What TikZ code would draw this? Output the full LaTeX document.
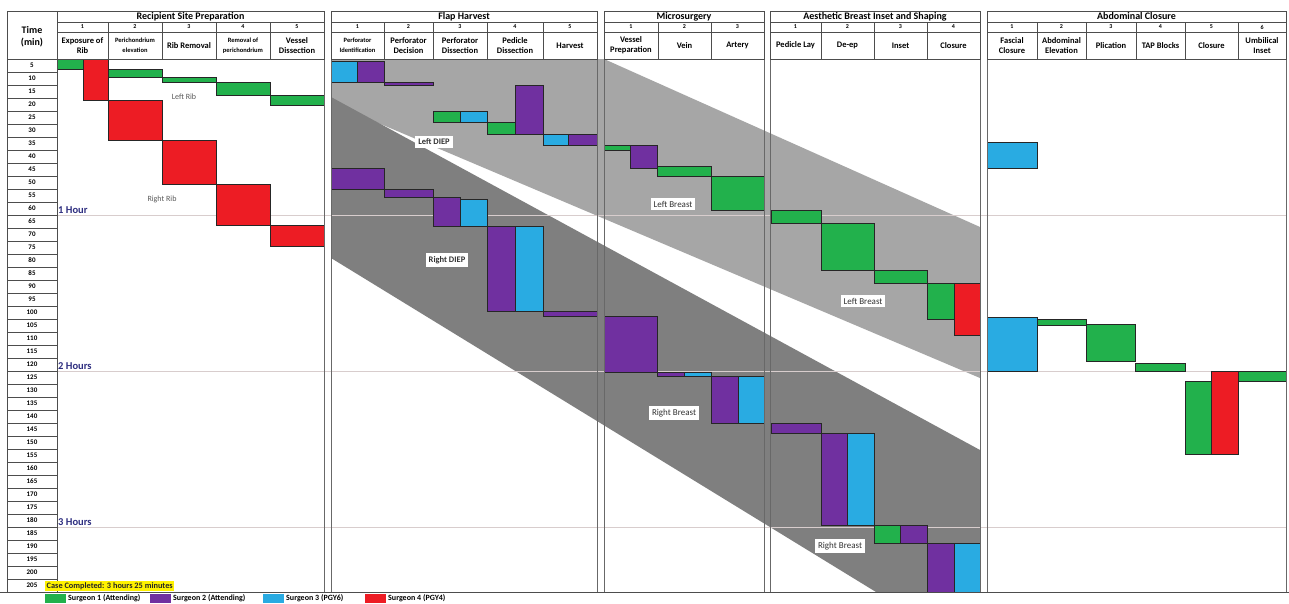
\documentclass[tikz,border=0pt]{standalone}
\usepackage{fontspec}
\setmainfont{Carlito}
\definecolor{sgreen}{HTML}{22B14C}
\definecolor{spurple}{HTML}{7030A0}
\definecolor{scyan}{HTML}{29ABE2}
\definecolor{sred}{HTML}{ED1C24}
\definecolor{bandlight}{HTML}{A6A6A6}
\definecolor{banddark}{HTML}{7F7F7F}
\definecolor{hourline}{HTML}{D8CDCD}
\definecolor{hourtext}{HTML}{2E2E80}
\definecolor{gridc}{HTML}{4D4D4D}
\definecolor{casebg}{HTML}{FFF200}
\tikzset{
    bar/.style={draw=black!85, line width=0.6pt},
    cell/.style={draw=gridc, line width=0.7pt},
    sect/.style={draw=gridc!85, line width=1pt},
    hourln/.style={draw=hourline, line width=0.9pt},
    sectitle/.style={font=\bfseries\fontsize{10}{11}\selectfont, inner sep=0pt},
    colnum/.style={font=\bfseries\fontsize{6}{7}\selectfont, inner sep=0pt},
    timenum/.style={font=\bfseries\fontsize{7}{8}\selectfont, inner sep=0pt},
    hourlab/.style={font=\bfseries\fontsize{10.5}{11}\selectfont, text=hourtext, inner sep=1pt},
    bandlab/.style={fill=white, font=\bfseries\fontsize{8.5}{9}\selectfont, text=black!80, inner sep=3pt},
    breastlab/.style={bandlab, font=\fontsize{9}{10}\selectfont},
    riblab/.style={font=\fontsize{8}{9}\selectfont, text=black!65, inner sep=0pt},
    legtext/.style={font=\bfseries\fontsize{8}{9}\selectfont, inner sep=0pt, anchor=west}
}
\begin{document}
\begin{tikzpicture}[x=1pt, y=-1pt]
        \useasboundingbox (0,0) rectangle (1289,603);
        \fill[white] (0,0) rectangle (1289,603);

        \fill[bandlight] (331,59) -- (604,59) -- (980,227) -- (980,378) -- (331,103) -- cycle;
        \fill[banddark] (331,97) -- (980,450) -- (980,592) -- (876,592) -- (331,258) -- cycle;

        \foreach \h/\y/\lab in {1/215/1 Hour, 2/371/2 Hours, 3/527/3 Hours} {
            \draw[hourln] (57,\y) -- (1286,\y);
            \node[hourlab, anchor=base west] (hour\h) at (57,{\y-1.5}) {\lab};
        }

        \foreach \xa/\ya/\xb/\yb/\c in {
            57/59/83/69/sgreen, 83/59/108/100/sred, 108/69/162/77/sgreen,
            162/77/216/82/sgreen, 216/82/270/95/sgreen, 270/95/324/105/sgreen,
            108/100/162/140/sred, 162/140/216/184/sred, 216/184/270/225/sred,
            270/225/324/246/sred,
            331/61/357/82/scyan, 357/61/384/82/spurple, 384/82/433/85/spurple,
            433/111/460/122/sgreen, 460/111/487/122/scyan, 487/122/515/134/sgreen,
            515/85/543/134/spurple, 543/134/568/145/scyan, 568/134/597/145/spurple,
            331/168/384/189/spurple, 384/189/433/197/spurple, 433/197/460/226/spurple,
            460/199/487/226/scyan, 487/226/515/311/spurple, 515/226/543/311/scyan,
            543/311/597/316/spurple,
            604/145/630/150/sgreen, 630/145/657/168/spurple, 657/166/711/176/sgreen,
            711/176/764/210/sgreen,
            604/316/657/372/spurple, 657/372/684/376/spurple, 684/372/711/376/scyan,
            711/376/738/423/spurple, 738/376/764/423/scyan,
            771/210/821/223/sgreen, 821/223/874/270/sgreen, 874/270/927/283/sgreen,
            927/283/954/319/sgreen, 954/283/980/335/sred,
            771/423/821/433/spurple, 821/433/847/525/spurple, 847/433/874/525/scyan,
            874/525/900/543/sgreen, 900/525/927/543/spurple, 927/543/954/592/spurple,
            954/543/980/592/scyan,
            987/142/1037/168/scyan, 987/317/1037/371/scyan, 1037/319/1086/325/sgreen,
            1086/324/1135/361/sgreen, 1135/363/1185/371/sgreen, 1185/381/1211/454/sgreen,
            1211/371/1238/454/sred, 1238/371/1286/381/sgreen} {
            \path[bar, fill=\c] (\xa,\ya) rectangle (\xb,\yb);
        }

        \foreach \xa/\xb/\s/\title in {57/324/rsp/Recipient Site Preparation,
            331/597/fh/Flap Harvest, 604/764/ms/Microsurgery,
            770/980/abi/Aesthetic Breast Inset and Shaping, 987/1286/ac/Abdominal Closure} {
            \draw[sect] (\xa,11) rectangle (\xb,592);
            \draw[cell] (\xa,11) rectangle (\xb,22);
            \node[sectitle] (\s) at ({(\xa+\xb)/2},16.5) {\title};
        }

        \foreach \s/\n/\xa/\xb/\fs/\txt in {
            rsp/1/57/108/8.5/{Exposure of\\Rib}, rsp/2/108/162/6.5/{Perichondrium\\elevation},
            rsp/3/162/216/8.5/{Rib Removal}, rsp/4/216/270/6.5/{Removal of\\perichondrium},
            rsp/5/270/324/8.5/{Vessel\\Dissection},
            fh/1/331/384/6.5/{Perforator\\Identification}, fh/2/384/433/8.5/{Perforator\\Decision},
            fh/3/433/487/8.5/{Perforator\\Dissection}, fh/4/487/543/8.5/{Pedicle\\Dissection},
            fh/5/543/597/8.5/{Harvest},
            ms/1/604/658/8.5/{Vessel\\Preparation}, ms/2/658/711/8.5/{Vein}, ms/3/711/764/8.5/{Artery},
            abi/1/770/821/8.5/{Pedicle Lay}, abi/2/821/874/8.5/{De-ep}, abi/3/874/927/8.5/{Inset},
            abi/4/927/980/8.5/{Closure},
            ac/1/987/1037/8.5/{Fascial\\Closure}, ac/2/1037/1086/8.5/{Abdominal\\Elevation},
            ac/3/1086/1136/8.5/{Plication}, ac/4/1136/1185/8.5/{TAP Blocks},
            ac/5/1185/1238/8.5/{Closure}, ac/6/1238/1286/8.5/{Umbilical\\Inset}} {
            \draw[cell] (\xa,22) rectangle (\xb,32) (\xa,32) rectangle (\xb,59);
            \node[colnum] (\s-num\n) at ({(\xa+\xb)/2},27) {\n};
            \node[font=\bfseries\fontsize{\fs}{10}\selectfont, align=center, inner sep=0pt]
                (\s-col\n) at ({(\xa+\xb)/2},45.5) {\txt};
        }

        \draw[cell] (7,11) rectangle (57,59);
        \node[font=\bfseries\fontsize{10}{12}\selectfont, align=center] (timehead) at (32,37) {Time\\(min)};
        \foreach \k in {1,...,41} {
            \pgfmathtruncatemacro{\t}{5*\k}
            \draw[cell] (7,{59+13*(\k-1)}) rectangle (57,{59+13*\k});
            \node[timenum] (t\t) at (32,{52.5+13*\k}) {\t};
        }
        \draw[cell] (0,592) -- (1289,592);

        \node[riblab] (leftrib) at (184,97) {Left Rib};
        \node[riblab] (rightrib) at (162,199) {Right Rib};
        \node[bandlab] (leftdiep) at (434,142) {Left DIEP};
        \node[bandlab] (rightdiep) at (447,260) {Right DIEP};
        \node[breastlab] (leftbreastms) at (673,204) {Left Breast};
        \node[breastlab] (leftbreastabi) at (863,301) {Left Breast};
        \node[breastlab] (rightbreastms) at (674,413) {Right Breast};
        \node[breastlab] (rightbreastabi) at (840,546) {Right Breast};

        \node[fill=casebg, font=\bfseries\fontsize{8.3}{9}\selectfont, text=black!85, inner sep=1.5pt,
            anchor=south west] (casedone) at (45,591) {Case Completed: 3 hours 25 minutes};

        \foreach \k/\c/\xa/\lab in {1/sgreen/45/Surgeon 1 (Attending), 2/spurple/150/Surgeon 2 (Attending),
            3/scyan/263/Surgeon 3 (PGY6), 4/sred/365/Surgeon 4 (PGY4)} {
            \fill[\c] (\xa,594) rectangle ++(21,9);
            \node[legtext] (leg\k) at ({\xa+23},598.5) {\lab};
        }
\end{tikzpicture}
\end{document}
